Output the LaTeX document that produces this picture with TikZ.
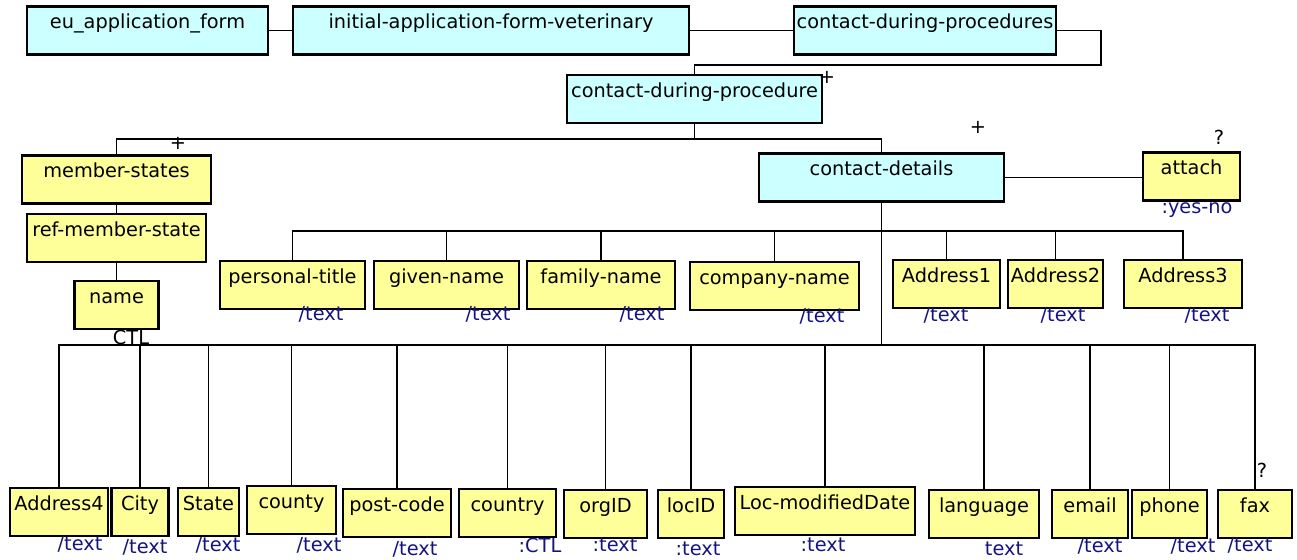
\documentclass[tikz,border=0pt]{standalone}
\usepackage{fontspec}
\setmainfont{DejaVu Sans}
\usepackage{tikz}

\definecolor{elcyan}{RGB}{204,255,255}
\definecolor{elyellow}{RGB}{255,255,153}
\definecolor{typeblue}{RGB}{20,20,128}

\begin{document}
\begin{tikzpicture}[x=0.02cm,y=-0.02cm,
  font=\fontsize{11}{13}\selectfont,
  elem/.style={draw,line width=1.3pt,inner xsep=1.5pt,inner ysep=0pt,
    text height=0.45cm,text depth=0.51cm},
  cbox/.style={elem,fill=elcyan},
  ybox/.style={elem,fill=elyellow},
  typ/.style={text=typeblue,inner sep=0pt},
  card/.style={inner sep=0pt},
  link/.style={line width=1.1pt}]

\useasboundingbox (0,0) rectangle (1297,560);

% top of the tree
\node[cbox,minimum width=4.82cm] (euform) at (147.5,30.5) {eu\_application\_form};
\node[cbox,minimum width=7.92cm] (initform) at (491,30.5) {initial-application-form-veterinary};
\node[cbox,minimum width=5.12cm] (cdps) at (925,30.5) {contact-during-procedures};
\node[cbox,minimum width=5.10cm] (cdp) at (694.5,99) {contact-during-procedure};

% member states branch
\node[ybox,minimum width=3.78cm] (mstates) at (116.5,179.5) {member-states};
\node[ybox,minimum width=3.58cm] (refms) at (116.5,238) {ref-member-state};
\node[ybox,minimum width=1.68cm] (name) at (116.5,305) {name};

% contact details branch
\node[cbox,minimum width=4.90cm] (cdetails) at (881.5,177.5) {contact-details};
\node[ybox,minimum width=1.94cm] (attach) at (1191.5,176.5) {attach};

% first row of children
\node[ybox,minimum width=2.90cm] (ptitle) at (292.5,285) {personal-title};
\node[ybox,minimum width=2.90cm] (gname) at (446.5,285) {given-name};
\node[ybox,minimum width=2.96cm] (fname) at (601,285) {family-name};
\node[ybox,minimum width=3.38cm] (cname) at (774.5,286) {company-name};
\node[ybox,minimum width=2.14cm] (addr1) at (946.5,284) {Address1};
\node[ybox,minimum width=1.90cm] (addr2) at (1055.5,284) {Address2};
\node[ybox,minimum width=2.36cm] (addr3) at (1183,284) {Address3};

% second row of children
\node[ybox,minimum width=1.96cm] (addr4) at (59,512) {Address4};
\node[ybox,minimum width=1.14cm] (city) at (140,512) {City};
\node[ybox,minimum width=1.22cm] (state) at (208.5,512) {State};
\node[ybox,minimum width=1.78cm] (county) at (291.5,510) {county};
\node[ybox,minimum width=2.16cm] (postcode) at (397,513) {post-code};
\node[ybox,minimum width=1.94cm] (country) at (507.5,513) {country};
\node[ybox,minimum width=1.66cm] (orgid) at (605.5,514) {orgID};
\node[ybox,minimum width=1.32cm] (locid) at (691,514) {locID};
\node[ybox,minimum width=3.60cm] (locmod) at (825,511) {Loc-modifiedDate};
\node[ybox,minimum width=2.20cm] (language) at (984,514) {language};
\node[ybox,minimum width=1.52cm] (email) at (1090,514) {email};
\node[ybox,minimum width=1.50cm] (phone) at (1169.5,514) {phone};
\node[ybox,minimum width=1.48cm] (fax) at (1255,514) {fax};

% types
\node[typ] (t-attach) at (1197,210) {:yes-no};
\node[typ] (t-ptitle) at (321,314) {/text};
\node[typ] (t-gname) at (488,314) {/text};
\node[typ] (t-fname) at (642,314) {/text};
\node[typ] (t-cname) at (822,316) {/text};
\node[typ] (t-addr1) at (946,315) {/text};
\node[typ] (t-addr2) at (1063,315) {/text};
\node[typ] (t-addr3) at (1207,315) {/text};
\node[typ] (t-addr4) at (80,544) {/text};
\node[typ] (t-city) at (145,547) {/text};
\node[typ] (t-state) at (218,545) {/text};
\node[typ] (t-county) at (319,545) {/text};
\node[typ] (t-postcode) at (415,549) {/text};
\node[typ] (t-country) at (540,545) {:CTL};
\node[typ] (t-orgid) at (615,545) {:text};
\node[typ] (t-locid) at (698,549) {:text};
\node[typ] (t-locmod) at (823,545) {:text};
\node[typ] (t-language) at (1004,549) {text};
\node[typ] (t-email) at (1100,546) {/text};
\node[typ] (t-phone) at (1193,546) {/text};
\node[typ] (t-fax) at (1250,545) {/text};
\node[card] (t-name) at (131,337) {CTL};

% cardinalities
\node[card] (c-cdp) at (827,77) {+};
\node[card] (c-mstates) at (178,143) {+};
\node[card] (c-cdetails) at (978,127) {+};
\node[card] (c-attach) at (1219,137) {?};
\node[card] (c-fax) at (1262,470) {?};

% connectors
\coordinate (loopr) at (1101,65);
\coordinate (bus1) at (694.5,139);
\coordinate (bus2) at (881.5,231);
\coordinate (bus3) at (881.5,345);

\draw[link] (euform) -- (initform);
\draw[link] (initform) -- (cdps);
\draw[link] (cdps.east) -| (loopr) -| (cdp.north);
\draw[link] (cdp.south) -- (bus1);
\draw[link] (mstates.north) |- (bus1) -| (cdetails.north);
\draw[link] (mstates) -- (refms);
\draw[link] (refms) -- (name);
\draw[link] (cdetails.east) -- (cdetails.east -| attach.west);
\draw[link] (cdetails.south) -- (bus3);
\foreach \n in {ptitle,gname,fname,cname,addr1,addr2,addr3}
  \draw[link] (bus2) -| (\n.north);
\foreach \n in {addr4,city,state,county,postcode,country,orgid,locid,locmod,language,email,phone,fax}
  \draw[link] (bus3) -| (\n.north);

\end{tikzpicture}
\end{document}
